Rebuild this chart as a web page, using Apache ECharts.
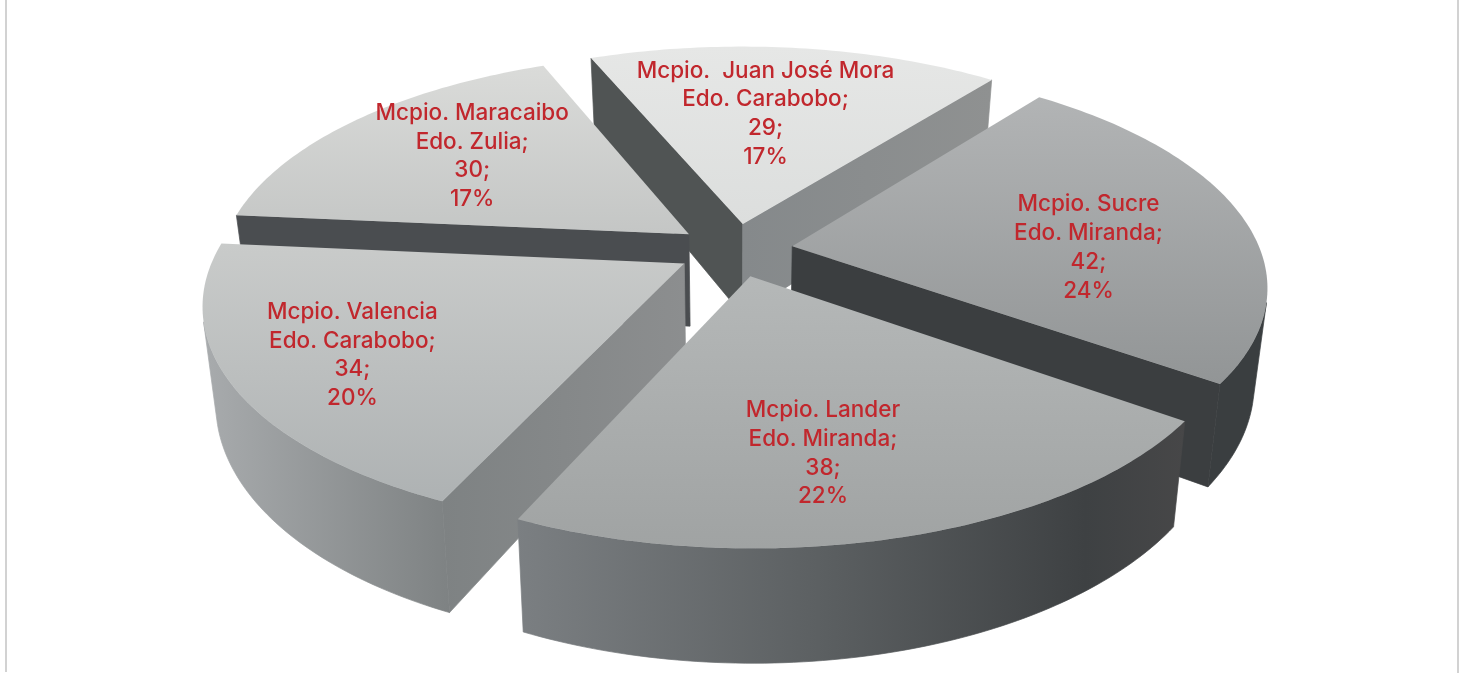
<!DOCTYPE html>
<html><head><meta charset="utf-8">
<script src="https://cdn.jsdelivr.net/npm/echarts@6/dist/echarts.min.js"></script>
<style>html,body{margin:0;padding:0;background:#fff}#c{width:1465px;height:673px}</style>
</head><body><div id="c"></div>
<script>
// clockwise from the slice that starts near 12 o'clock
const municipios = ['Mcpio.  Juan José Mora','Mcpio. Sucre','Mcpio. Lander','Mcpio. Valencia','Mcpio. Maracaibo'];
const estados = ['Edo. Carabobo;','Edo. Miranda;','Edo. Miranda;','Edo. Carabobo;','Edo. Zulia;'];
const valores = [29,42,38,34,30];

const view = {cx:735,cy:250,R:468,tilt:0.461,persp:0.17,explode:58,thick:93,zShrink:0.025,startAngle:-22.3};
const paintOrder = [0,4,1,3,2];
const labelReach = [0.587,0.634,0.705,0.755,0.643];
const labelTurn = [-2.4,8.9,4.4,-0.8,1.5];
const topFill = [['#e6e7e6','#dcdedd'],['#b2b4b5','#929596'],['#b5b8b8','#a0a3a3'],['#c9cbca','#aeb2b3'],['#dadbd9','#c4c6c5']];
const sideFill = [
  [[0,'#888b8c'],[1,'#888b8c']],
  [[0,'#3a3e40'],[1,'#3a3e40']],
  [[0,'#7b7f82'],[0.45,'#5c6062'],[0.85,'#3e4143'],[1,'#474748']],
  [[0,'#a8abad'],[1,'#7e8283']],
  [[0,'#4a4d50'],[1,'#4a4d50']]];
const startCutFill = [['#505454','#505454'],['#3b3e40','#3b3e40'],['#3c3f41','#3c3f41'],['#7e8283','#8c8e8f'],['#4a4d50','#4a4d50']];
const endCutFill = [['#85898b','#8f9191'],['#3b3e40','#3b3e40'],['#7a7e81','#7a7e81'],['#808384','#808384'],['#4a4d50','#4a4d50']];

const total = valores.reduce((a,b)=>a+b,0);
function proj(X,Y,Z){
  const w = 1 + view.persp*Y/view.R;
  const s = 1 - view.zShrink*Z;
  return [view.cx + X/w*s, view.cy - view.tilt*Y/w + view.thick*Z/w];
}
function quadArea(a,b,c,d){
  const p=[a,b,c,d];let s=0;
  for(let i=0;i<4;i++){const q=p[(i+1)%4];s+=p[i][0]*q[1]-q[0]*p[i][1];}
  return s;
}
function render(params, api){
  const i = params.dataIndex;
  let before = 0; for(let k=0;k<i;k++) before += valores[k];
  const v = api.value(1);
  const a0 = view.startAngle + before/total*360, a1 = a0 + v/total*360, mid=(a0+a1)/2;
  const rad = d=>d*Math.PI/180;
  const ox = view.explode*Math.sin(rad(mid)), oy = view.explode*Math.cos(rad(mid));
  const P = (a,r,z)=>proj(ox+r*Math.sin(rad(a)), oy+r*Math.cos(rad(a)), z);
  const n=Math.ceil(a1-a0);
  const topArc=[],botArc=[];
  for(let k=0;k<=n;k++){const a=a0+(a1-a0)*k/n;topArc.push(P(a,view.R,0));botArc.push(P(a,view.R,1));}
  const layer = paintOrder.indexOf(i)*10;
  const poly = (points,fill,z2)=>({type:'polygon',shape:{points},style:{fill,stroke:null},z2,silent:true});
  const wall = (points,fill,z2)=>({type:'polygon',shape:{points},style:{fill,stroke:fill,lineWidth:0.7,lineJoin:'round'},z2,silent:true});
  const grad = (x2,y2,c)=>new echarts.graphic.LinearGradient(0,0,x2,y2,c.map(s=>({offset:s[0],color:s[1]})));
  const pair = c=>[[0,c[0]],[1,c[1]]];
  const apexT=P(0,0,0), apexB=P(0,0,1);
  const children=[];
  // outer wall: only the stretch of the rim that faces the viewer
  const vt=[],vb=[];
  for(let k=0;k<n;k++){
    if(quadArea(topArc[k],topArc[k+1],botArc[k+1],botArc[k])<0){
      if(!vt.length){vt.push(topArc[k]);vb.push(botArc[k]);}
      vt.push(topArc[k+1]);vb.push(botArc[k+1]);
    }
  }
  if(vt.length) children.push(wall(vt.concat(vb.reverse()),grad(1,0,sideFill[i]),layer));
  if(quadArea(apexT,topArc[0],botArc[0],apexB)<0)
    children.push(wall([apexT,topArc[0],botArc[0],apexB],grad(1,0,pair(startCutFill[i])),layer+1));
  if(quadArea(apexT,topArc[n],botArc[n],apexB)>0)
    children.push(wall([apexT,topArc[n],botArc[n],apexB],grad(1,0,pair(endCutFill[i])),layer+1));
  children.push(poly([apexT].concat(topArc),grad(0,1,pair(topFill[i])),layer+3));
  const lp = P(mid+labelTurn[i],view.R*labelReach[i],0);
  const pct = Math.round(v/total*100);
  children.push({type:'text',z2:500,silent:true,style:{
    x:lp[0],y:lp[1],text:[api.value(0),estados[i],v+';',pct+'%'].join('\n'),
    fill:'#c1272d',fontFamily:'Inter',fontWeight:500,fontSize:22.5,lineHeight:28.7,align:'center',verticalAlign:'middle'}});
  return {type:'group',children};
}
const chart = echarts.init(document.getElementById('c'),null,{renderer:'canvas'});
chart.setOption({
  animation:false,backgroundColor:'#fff',
  graphic:[
    {type:'rect',shape:{x:5,y:0,width:2,height:672},style:{fill:'#d2d2d2'},silent:true},
    {type:'rect',shape:{x:1457,y:0,width:2,height:673},style:{fill:'#d2d2d2'},silent:true}
  ],
  series:[{type:'custom',coordinateSystem:'none',renderItem:render,
    data:municipios.map((m,i)=>[m,valores[i]])}]
});
</script></body></html>
